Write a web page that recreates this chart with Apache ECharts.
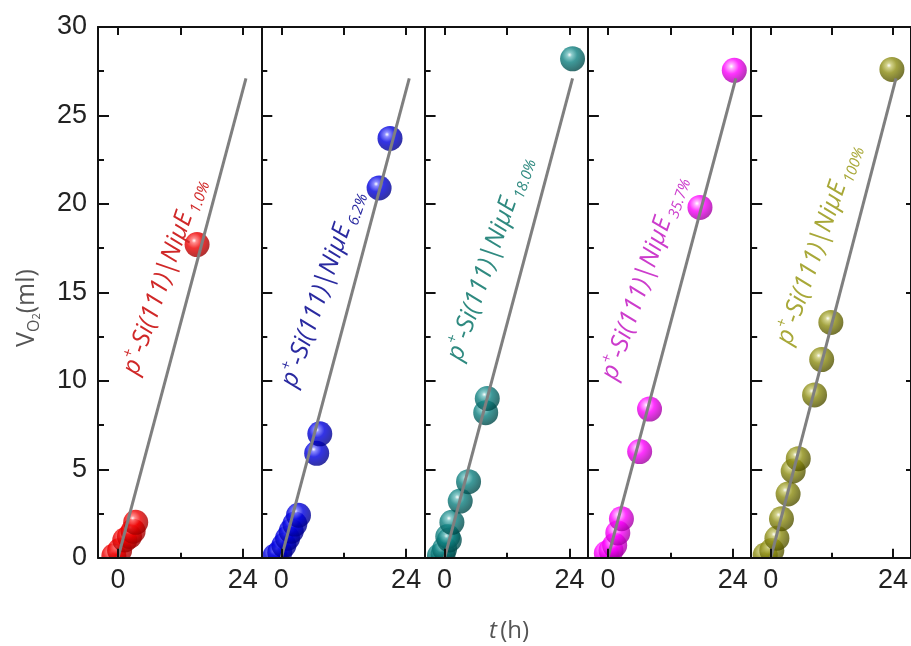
<!DOCTYPE html>
<html>
<head>
<meta charset="utf-8">
<script src="https://cdn.jsdelivr.net/npm/echarts@6/dist/echarts.min.js"></script>
<style>
  html, body { margin: 0; padding: 0; background: #fff; }
  #chart { width: 911px; height: 646px; }
</style>
</head>
<body>
<div id="chart"></div>
<script>
// sample labels (subscript of NiμE)
const samples = ['1.0%', '6.2%', '18.0%', '35.7%', '100%'];

// O2 volume (ml) vs time (h), one pair of arrays per panel
const time1 = [-0.8, 0.3, 1.3, 2.2, 2.9, 3.4, 15.2];
const vol1 = [0.1, 0.4, 1.0, 1.2, 1.5, 2.0, 17.7];

const time2 = [-1.2, -0.3, 0.5, 1.2, 1.9, 2.6, 3.3, 6.8, 7.4, 18.8, 20.9];
const vol2 = [0.1, 0.3, 0.7, 1.1, 1.5, 1.9, 2.4, 5.9, 7.0, 20.9, 23.7];

const time3 = [-1.0, -0.3, 0, 0.6, 0.9, 1.4, 3.0, 4.6, 7.9, 8.2, 24.6];
const vol3 = [0.1, 0.2, 0.5, 1.2, 1.0, 2.0, 3.2, 4.3, 8.2, 9.0, 28.2];

const time4 = [-0.3, 0.6, 1.3, 1.9, 2.6, 6.1, 8.0, 17.7, 24.3];
const vol4 = [0.25, 0.4, 0.7, 1.4, 2.2, 6.0, 8.4, 19.8, 27.55];

const time5 = [-1.1, 0.2, 1.2, 2.1, 3.4, 4.4, 5.4, 8.6, 10.0, 11.8, 23.8];
const vol5 = [0.15, 0.4, 1.1, 2.2, 3.6, 4.9, 5.6, 9.2, 11.2, 13.3, 27.6];

// linear fit drawn in every panel
const fitTime = [0, 24.6];
const fitVol = [0, 27.1];

// tick values
const xMajorTicks = [0, 24];
const xMinorTicks = [12];
const xTopTicks = [0, 12, 24];

const times = [time1, time2, time3, time4, time5];
const vols = [vol1, vol2, vol3, vol4, vol5];

const sphereBase = ['#ee0000', '#0000e0', '#0e8080', '#ff00ff', '#8c8c12'];
const sphereLight = ['#ff7070', '#7070ff', '#70c0c0', '#ff9cff', '#c8c870'];
const sphereDark = ['#9a0000', '#00008a', '#004848', '#a000a0', '#505000'];
const textColors = ['#d02828', '#2a2aa0', '#2f8a80', '#cc3ccc', '#a8a838'];

// where the rotated captions start (t, V) in each panel
const captionAt = [[2.4, 10.4], [1.4, 9.7], [1.9, 11.2], [0.2, 10.1], [2.6, 12.1]];

const chart = echarts.init(document.getElementById('chart'));

const X_MIN = -3.85, X_MAX = 27.55;
const LEFT0 = 98, W = 163.3, TOP = 27, H = 530.7;
const tickFont = { fontFamily: 'Liberation Sans, Arial, sans-serif', fontSize: 27, color: '#222' };
const axisLine = { show: true, onZero: false, lineStyle: { color: '#111', width: 2 } };

const grids = [], xAxes = [], yAxes = [], series = [];

for (let i = 0; i < 5; i++) {
  grids.push({ left: LEFT0 + i * W, top: TOP, width: W, height: H });

  const base = { gridIndex: i, type: 'value', min: X_MIN, max: X_MAX, z: 10, splitLine: { show: false } };
  // bottom, major ticks + labels
  xAxes.push(Object.assign({}, base, {
    position: 'bottom',
    axisLine: axisLine,
    axisTick: { inside: true, length: 9, customValues: xMajorTicks, lineStyle: { color: '#111', width: 2 } },
    axisLabel: Object.assign({ customValues: xMajorTicks, margin: 9 }, tickFont)
  }));
  // bottom, minor tick
  xAxes.push(Object.assign({}, base, {
    position: 'bottom',
    axisLine: { show: false, onZero: false },
    axisTick: { inside: true, length: 5, customValues: xMinorTicks, lineStyle: { color: '#111', width: 2 } },
    axisLabel: { show: false }
  }));
  // top frame
  xAxes.push(Object.assign({}, base, {
    position: 'top',
    axisLine: axisLine,
    axisTick: { inside: true, length: 8, customValues: xTopTicks, lineStyle: { color: '#111', width: 2 } },
    axisLabel: { show: false }
  }));

  yAxes.push({
    gridIndex: i, type: 'value', min: 0, max: 30, interval: 5, position: 'left', z: 10,
    axisLine: axisLine,
    axisTick: { inside: true, length: 11, lineStyle: { color: '#111', width: 2 } },
    minorTick: { show: true, splitNumber: 2, length: 6, lineStyle: { color: '#111', width: 2 } },
    axisLabel: Object.assign({ show: i === 0, margin: 11 }, tickFont),
    splitLine: { show: false }
  });

  series.push({
    type: 'scatter',
    xAxisIndex: i * 3, yAxisIndex: i,
    data: times[i].map((t, k) => [t, vols[i][k]]),
    symbolSize: 25,
    clip: false,
    itemStyle: {
      color: {
        type: 'radial', x: 0.38, y: 0.34, r: 0.68,
        colorStops: [
          { offset: 0, color: '#ffffff' },
          { offset: 0.14, color: sphereLight[i] },
          { offset: 0.45, color: sphereBase[i] },
          { offset: 1, color: sphereDark[i] }
        ]
      }
    }
  });
  series.push({
    type: 'line',
    xAxisIndex: i * 3, yAxisIndex: i,
    data: fitTime.map((t, k) => [t, fitVol[k]]),
    symbol: 'none',
    lineStyle: { color: '#7f7f7f', width: 3 },
    z: 5
  });
}

// right frame of the last panel
yAxes.push({
  gridIndex: 4, type: 'value', min: 0, max: 30, interval: 5, position: 'right', z: 10,
  axisLine: axisLine,
  axisTick: { inside: true, length: 5, lineStyle: { color: '#111', width: 2 } },
  axisLabel: { show: false },
  splitLine: { show: false }
});

chart.setOption({
  animation: false,
  backgroundColor: '#fff',
  grid: grids,
  xAxis: xAxes,
  yAxis: yAxes,
  series: series
});

const capFont = '"Open Sans", Lato, sans-serif';
const graphics = [];
for (let i = 0; i < 5; i++) {
  const p = chart.convertToPixel({ gridIndex: i }, captionAt[i]);
  graphics.push({
    type: 'text',
    x: p[0], y: p[1],
    rotation: 71 * Math.PI / 180,
    z: 10,
    style: {
      text: '{m|p}{sup|+}{m|-Si(111)|NiμE}{sub|' + samples[i] + '}',
      fill: textColors[i],
      align: 'left',
      verticalAlign: 'middle',
      rich: {
        m: { fontFamily: capFont, fontStyle: 'italic', fontSize: 25, fill: textColors[i], lineHeight: 32 },
        sup: { fontFamily: capFont, fontStyle: 'italic', fontSize: 15, fill: textColors[i], verticalAlign: 'top', lineHeight: 32 },
        sub: { fontFamily: capFont, fontStyle: 'italic', fontSize: 15, fill: textColors[i], verticalAlign: 'bottom', lineHeight: 32, padding: [0, 0, 0, 3] }
      }
    }
  });
  // spheres sitting on the axis are cut off by the frame
  const rect = chart.getModel().getComponent('grid', i).coordinateSystem.getRect();
  graphics.push({
    type: 'rect', z: 4, silent: true,
    shape: { x: rect.x, y: rect.y + rect.height + 1, width: rect.width, height: 16 },
    style: { fill: '#fff' }
  });
}

// axis titles
graphics.push({
  type: 'text', x: 27, y: 308, rotation: Math.PI / 2, z: 10,
  style: {
    text: '{v|V}{s|O}{s2|2}{n|(ml)}',
    align: 'center', verticalAlign: 'middle', fill: '#555',
    rich: {
      v: { fontFamily: capFont, fontSize: 25, fill: '#555', lineHeight: 30 },
      s: { fontFamily: capFont, fontSize: 16, fill: '#555', verticalAlign: 'bottom', lineHeight: 30 },
      s2: { fontFamily: capFont, fontSize: 11, fill: '#555', verticalAlign: 'bottom', lineHeight: 26 },
      n: { fontFamily: capFont, fontSize: 25, fill: '#555', lineHeight: 30 }
    }
  }
});
graphics.push({
  type: 'text', x: 509, y: 631, z: 10,
  style: {
    text: '{t|t} {n|(h)}',
    align: 'center', verticalAlign: 'middle', fill: '#555',
    rich: {
      t: { fontFamily: capFont, fontStyle: 'italic', fontSize: 24, fill: '#555' },
      n: { fontFamily: capFont, fontSize: 24, fill: '#555' }
    }
  }
});

chart.setOption({ graphic: graphics });
</script>
</body>
</html>
